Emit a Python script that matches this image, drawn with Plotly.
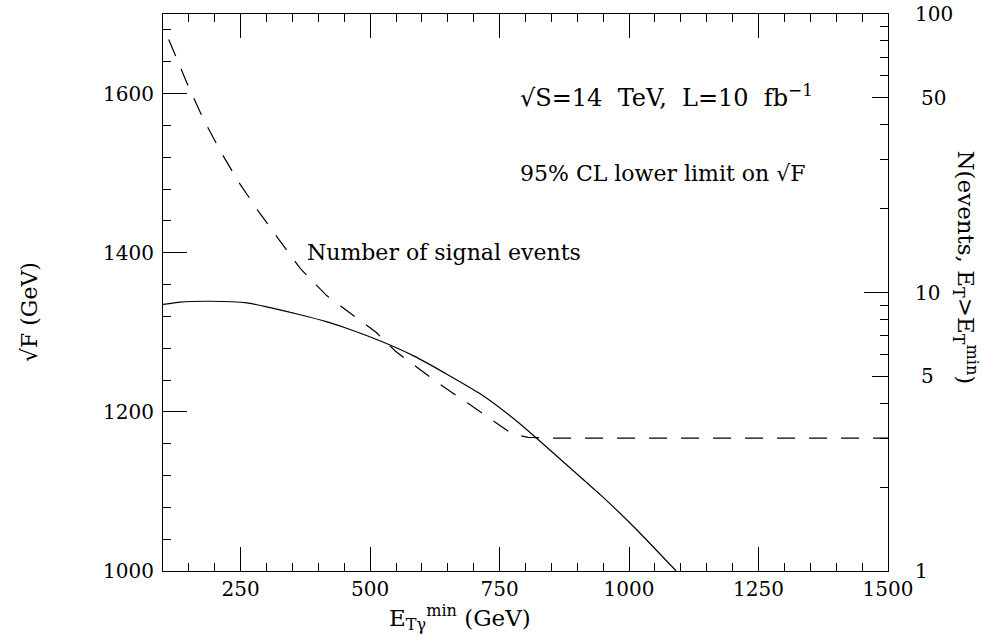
import plotly.graph_objects as go

# 95% CL lower limit on sqrt(F) (left axis, GeV) vs E_T^min (GeV)
et_limit = [100, 133, 191, 262, 307, 365, 417, 468, 520, 585, 649, 714, 778, 816, 882, 946, 1010, 1091]
sqrtF_limit = [1335, 1338, 1339, 1337, 1331, 1322, 1313, 1302, 1289, 1270, 1247, 1222, 1191, 1170, 1132, 1095, 1055, 1000]

# Number of signal events (right log axis) vs E_T^min (GeV)
et_events = [111, 148, 177, 210, 245, 284, 325, 365, 416, 456, 512, 549, 631, 689, 733, 774, 805, 850, 1500]
n_events = [81, 55.5, 42.3, 32.4, 25.1, 19.6, 15.4, 12.2, 9.75, 8.6, 7.18, 6.15, 4.73, 4.0, 3.52, 3.11, 3.02, 3.0, 3.0]

x_ticks = [250, 500, 750, 1000, 1250, 1500]
y_ticks = [1000, 1200, 1400, 1600]
y2_major = [1, 10, 100]
y2_mid = [5, 50]
y2_minor = [2, 3, 4, 6, 7, 8, 9, 20, 30, 40, 60, 70, 80, 90]

FONT = "DejaVu Serif"
TICKFONT = dict(family=FONT, size=20, color="black")

fig = go.Figure()
fig.add_trace(go.Scatter(x=et_limit, y=sqrtF_limit, mode="lines",
                         line=dict(color="black", width=1.2, shape="spline", smoothing=0.5),
                         yaxis="y", showlegend=False, hoverinfo="skip"))
fig.add_trace(go.Scatter(x=et_events, y=n_events, mode="lines",
                         line=dict(color="black", width=1.2, dash="18px,14px"),
                         yaxis="y2", showlegend=False))
# invisible copy so that the secondary label axis (5, 50) is drawn
fig.add_trace(go.Scatter(x=et_events, y=n_events, mode="lines",
                         line=dict(color="rgba(0,0,0,0)", width=0),
                         yaxis="y3", showlegend=False, hoverinfo="skip"))

fig.update_layout(
    width=982, height=642,
    margin=dict(l=163, r=94, t=14, b=71, autoexpand=False),
    paper_bgcolor="white", plot_bgcolor="white",
    xaxis=dict(range=[100, 1500], tickmode="array", tickvals=x_ticks,
               ticks="inside", ticklen=24, tickwidth=1, tickcolor="black",
               showline=True, linecolor="black", linewidth=1, mirror="ticks",
               showgrid=False, zeroline=False, tickfont=TICKFONT, automargin=False,
               minor=dict(tickmode="linear", tick0=0, dtick=50, ticks="inside",
                          ticklen=8, tickwidth=1, tickcolor="black", showgrid=False)),
    yaxis=dict(range=[1000, 1700], tickmode="array", tickvals=y_ticks,
               ticks="inside", ticklen=24, tickwidth=1, tickcolor="black",
               showline=True, linecolor="black", linewidth=1, mirror=False,
               showgrid=False, zeroline=False, tickfont=TICKFONT, automargin=False,
               ticklabelstandoff=4,
               minor=dict(tickmode="linear", tick0=1000, dtick=40, ticks="inside",
                          ticklen=8, tickwidth=1, tickcolor="black", showgrid=False)),
    yaxis2=dict(type="log", range=[0, 2], overlaying="y", side="right",
                tickmode="array", tickvals=y2_major, ticktext=[str(v) for v in y2_major],
                ticks="inside", ticklen=24, tickwidth=1, tickcolor="black",
                showline=True, linecolor="black", linewidth=1,
                showgrid=False, zeroline=False, tickfont=TICKFONT, automargin=False,
                ticklabelstandoff=22,
                minor=dict(tickmode="array", tickvals=y2_minor, ticks="inside",
                           ticklen=8, tickwidth=1, tickcolor="black", showgrid=False)),
    yaxis3=dict(type="log", range=[0, 2], overlaying="y", side="right",
                tickmode="array", tickvals=y2_mid, ticktext=[str(v) for v in y2_mid],
                ticks="inside", ticklen=16, tickwidth=1, tickcolor="black",
                showline=False, showgrid=False, zeroline=False, tickfont=TICKFONT,
                automargin=False, ticklabelstandoff=32),
)

ann_font = dict(family=FONT, size=22, color="black")
fig.add_annotation(x=785, y=1597, xref="x", yref="y", xanchor="left", yanchor="middle",
                   text="√S=14&nbsp; TeV,&nbsp; L=10&nbsp; fb<sup>−1</sup>", showarrow=False,
                   font=dict(family=FONT, size=24, color="black"))
fig.add_annotation(x=785, y=1499, xref="x", yref="y", xanchor="left", yanchor="middle",
                   text="95% CL lower limit on √F", showarrow=False, font=ann_font)
fig.add_annotation(x=375, y=1400, xref="x", yref="y", xanchor="left", yanchor="middle",
                   text="Number of signal events", showarrow=False, font=ann_font)
fig.add_annotation(x=0.41, y=-0.084, xref="paper", yref="paper", xanchor="center", yanchor="middle",
                   text="E<sub>Tγ</sub><sup>min</sup> (GeV)", showarrow=False,
                   font=dict(family=FONT, size=23, color="black"))
fig.add_annotation(x=-0.1834, y=0.465, xref="paper", yref="paper", xanchor="center", yanchor="middle",
                   text="√F (GeV)", textangle=-90, showarrow=False, font=ann_font)
fig.add_annotation(x=1.1076, y=0.545, xref="paper", yref="paper", xanchor="center", yanchor="middle",
                   text="N(events, E<sub>T</sub>>E<sub>T</sub><sup>min</sup>)", textangle=90,
                   showarrow=False, font=dict(family=FONT, size=23, color="black"))

fig.write_html("out.html")
